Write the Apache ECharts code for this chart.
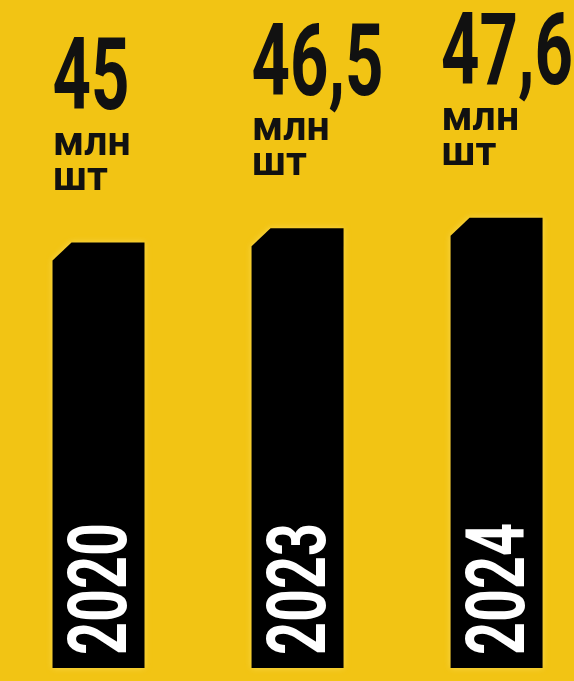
<!DOCTYPE html>
<html><head><meta charset="utf-8">
<script src="https://cdn.jsdelivr.net/npm/echarts@6/dist/echarts.min.js"></script>
<style>html,body{margin:0;padding:0;background:#F2C414;overflow:hidden} #c{width:574px;height:681px;}</style>
</head><body><div id="c"></div>
<script>
// ---- data ----
const years = ['2020', '2023', '2024'];
const values = [45, 46.5, 47.6];
const valueLabels = ['45', '46,5', '47,6'];
const unitLines = ['млн', 'шт'];

// ---- styling ----
const W = 574;
const condensed = '"Liberation Sans Narrow", "Roboto", sans-serif';
const VAL_FONT = 'bold 100px ' + condensed;
const YEAR_FONT = 'bold 81px ' + condensed;
const UNIT_FONT = 'bold 41px Roboto, "Liberation Sans", sans-serif';
const measureCtx = document.createElement('canvas').getContext('2d');
function measure(text, font) { measureCtx.font = font; return measureCtx.measureText(text).width; }
// condense glyphs horizontally to a target digit advance
const VAL_SCALE = 38.5 / measure('0', VAL_FONT);
const YEAR_SCALE = 33 / measure('0', YEAR_FONT);

const chart = echarts.init(document.getElementById('c'), null, { renderer: 'canvas' });

function renderItem(params, api) {
  const i = api.value(0);
  const top = api.coord([i, api.value(1)]);
  const base = api.coord([i, 0]);
  const bw = 92, ch = 18;
  const x0 = top[0] - bw / 2, x1 = top[0] + bw / 2;
  const yT = top[1], yB = base[1];
  const lbl = valueLabels[i];
  const lw = measure(lbl, VAL_FONT) * VAL_SCALE;
  const lx = Math.min(x0, W - 1 - lw);
  const children = [
    { type: 'polygon', shape: { points: [[x0, yT + ch], [x0 + ch + 1, yT], [x1, yT], [x1, yB], [x0, yB]] },
      style: { fill: '#000', shadowBlur: 6, shadowColor: 'rgba(255,230,120,0.6)' } },
    { type: 'text', x: lx, y: yT - 158.5, scaleX: VAL_SCALE,
      style: { text: lbl, font: VAL_FONT, fill: '#111', align: 'left', verticalAlign: 'middle' } },
    { type: 'text', x: lx + 0.5, y: yT - 98,
      style: { text: unitLines[0], font: UNIT_FONT, fill: '#111', align: 'left', verticalAlign: 'middle' } },
    { type: 'text', x: lx + 0.5, y: yT - 63,
      style: { text: unitLines[1], font: UNIT_FONT, fill: '#111', align: 'left', verticalAlign: 'middle' } },
    { type: 'text', x: top[0] + 7, y: yB - 13, rotation: Math.PI / 2, scaleX: YEAR_SCALE,
      style: { text: years[i], font: YEAR_FONT, fill: '#fff', align: 'left', verticalAlign: 'middle' } }
  ];
  return { type: 'group', children: children };
}

chart.setOption({
  animation: false,
  backgroundColor: '#F2C414',
  grid: { left: 0, right: 0, top: 6, bottom: 13 },
  xAxis: { type: 'value', min: -0.495, max: 2.389, show: false },
  yAxis: { type: 'value', min: 0, max: 70, show: false },
  series: [{
    type: 'custom',
    clip: false,
    renderItem: renderItem,
    encode: { x: 0, y: 1 },
    data: values.map((v, i) => [i, v])
  }]
});
</script>
</body></html>
